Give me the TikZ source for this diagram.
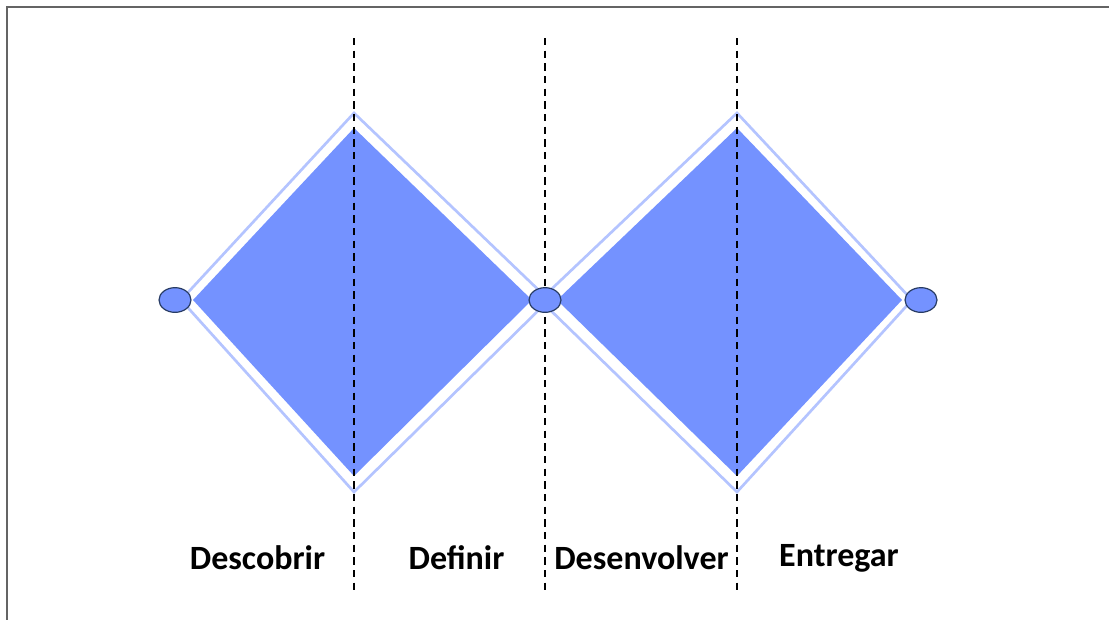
\documentclass[tikz,border=0pt]{standalone}
\usepackage{fontspec}
\setmainfont{Carlito}
\definecolor{diamondfill}{RGB}{116,146,255}
\definecolor{diamondedge}{RGB}{180,196,255}
\definecolor{dotedge}{RGB}{40,60,100}
\definecolor{framegray}{RGB}{100,100,100}
\tikzset{
  edgeline/.style={draw=diamondedge, line width=2pt, line join=miter},
  innerfill/.style={fill=diamondfill},
  divider/.style={black, line width=1pt, dash pattern=on 5.5pt off 4pt},
  joint/.style={ellipse, draw=dotedge, fill=diamondfill, line width=0.9pt,
                minimum width=24pt, minimum height=18.5pt, inner sep=0pt},
  phase/.style={font=\fontsize{25.5}{28}\selectfont\bfseries, anchor=base, inner sep=0pt}
}
\usetikzlibrary{shapes.geometric}
\begin{document}
\begin{tikzpicture}[x=0.75pt, y=-0.75pt]
\useasboundingbox (0,0) rectangle (1109,619);
\fill[white] (0,0) rectangle (1109,619);
% frame
\draw[framegray, line width=1.6pt] (7,625) -- (7,7) -- (1115,7);

% first diamond (outline + inset fill)
\coordinate (aL) at (181,300); \coordinate (aT) at (354,113);
\coordinate (aR) at (549,300); \coordinate (aB) at (354,492);
\fill[innerfill] (193,300) -- (354,128) -- (532,300) -- (354,476) -- cycle;
\draw[edgeline] (aL) -- (aT) -- (aR) -- (aB) -- cycle;

% second diamond
\coordinate (bL) at (540,300); \coordinate (bT) at (737,113);
\coordinate (bR) at (912,300); \coordinate (bB) at (737,492);
\fill[innerfill] (557,300) -- (737,128) -- (902,300) -- (737,476) -- cycle;
\draw[edgeline] (bL) -- (bT) -- (bR) -- (bB) -- cycle;

% dashed phase dividers
\coordinate (d1t) at (354,38); \coordinate (d1b) at (354,590);
\coordinate (d2t) at (545,38); \coordinate (d2b) at (545,590);
\coordinate (d3t) at (737,38); \coordinate (d3b) at (737,590);
\draw[divider] (d1t) -- (d1b);
\draw[divider] (d2t) -- (d2b);
\draw[divider] (d3t) -- (d3b);

% joints
\node[joint] (j1) at (175,300) {};
\node[joint] (j2) at (545,300) {};
\node[joint] (j3) at (921,300) {};

% phase labels
\node[phase] (p1) at (257.5,569) {Descobrir};
\node[phase] (p2) at (456.5,569) {Definir};
\node[phase] (p3) at (641.5,569) {Desenvolver};
\node[phase] (p4) at (839,566.5) {Entregar};
\end{tikzpicture}
\end{document}
